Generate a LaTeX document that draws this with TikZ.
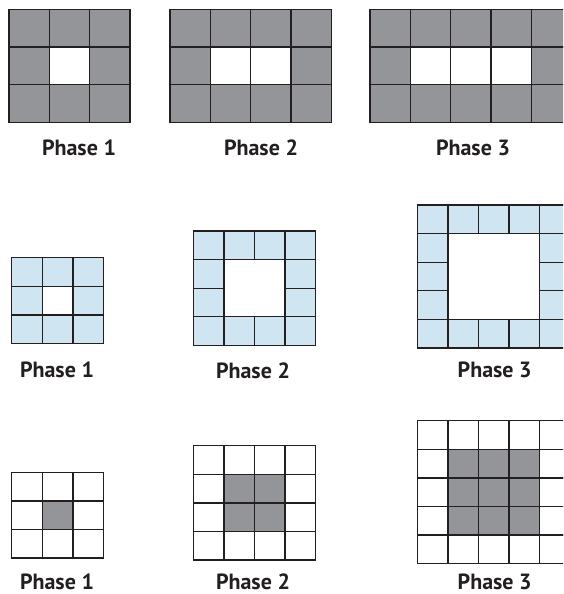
\documentclass[tikz,border=0pt]{standalone}
\usepackage{fontspec}
\setmainfont{PT Sans}
\usepackage{xcolor}
\usepackage{tikz}

\definecolor{tilegray}{RGB}{147,149,152}
\definecolor{tileblue}{RGB}{207,229,242}
\definecolor{inkc}{RGB}{35,31,32}

\begin{document}
\begin{tikzpicture}[
  x=1pt, y=-1pt,
  cell/.style={draw=inkc, line width=1.3pt},
  lbl/.style={anchor=base, inner sep=0pt, text=inkc, font=\fontsize{22}{26}\selectfont\bfseries},
]
  \useasboundingbox (0,0) rectangle (563,594);
  \clip (0,0) rectangle (563,594);

  % top row: gray frame, white middle row
  \begin{scope}[shift={(9,9.5)}]
    \foreach \i in {0,...,2} \foreach \j in {0,...,2}
      \draw[cell, fill=tilegray] (\i*40.3,\j*37.6) rectangle ++(40.3,37.6);
    \draw[cell, fill=white] (40.3,37.6) rectangle ++(40.3,37.6);
  \end{scope}
  \begin{scope}[shift={(170,9.5)}]
    \foreach \i in {0,...,3} \foreach \j in {0,...,2}
      \draw[cell, fill=tilegray] (\i*40.3,\j*37.6) rectangle ++(40.3,37.6);
    \foreach \i in {1,2}
      \draw[cell, fill=white] (\i*40.3,37.6) rectangle ++(40.3,37.6);
  \end{scope}
  \begin{scope}[shift={(370,9.5)}]
    \foreach \i in {0,...,4} \foreach \j in {0,...,2}
      \draw[cell, fill=tilegray] (\i*40.3,\j*37.6) rectangle ++(40.3,37.6);
    \foreach \i in {1,2,3}
      \draw[cell, fill=white] (\i*40.3,37.6) rectangle ++(40.3,37.6);
  \end{scope}
  \node[lbl] (top1) at (79,155) {Phase 1};
  \node[lbl] (top2) at (261,155) {Phase 2};
  \node[lbl] (top3) at (473,155) {Phase 3};

  % middle row: blue border, open hole
  \begin{scope}[shift={(11.7,257.7)}]
    \foreach \i in {0,...,2} \foreach \j in {0,...,2}
      \draw[cell, fill=tileblue] (\i*30.6,\j*28.6) rectangle ++(30.6,28.6);
    \draw[cell, fill=white] (30.6,28.6) rectangle ++(30.6,28.6);
  \end{scope}
  \begin{scope}[shift={(193.3,231)}]
    \foreach \i in {0,...,3} \foreach \j in {0,...,3}
      \draw[cell, fill=tileblue] (\i*30.6,\j*28.6) rectangle ++(30.6,28.6);
    \draw[cell, fill=white] (30.6,28.6) rectangle ++(61.2,57.2);
  \end{scope}
  \begin{scope}[shift={(417.3,205)}]
    \foreach \i in {0,...,4} \foreach \j in {0,...,4}
      \draw[cell, fill=tileblue] (\i*30.6,\j*28.6) rectangle ++(30.6,28.6);
    \draw[cell, fill=white] (30.6,28.6) rectangle ++(91.8,85.8);
  \end{scope}
  \node[lbl] (mid1) at (57,377) {Phase 1};
  \node[lbl] (mid2) at (253,378.5) {Phase 2};
  \node[lbl] (mid3) at (494.7,377) {Phase 3};

  % bottom row: white border, gray core
  \begin{scope}[shift={(11.7,472.3)}]
    \foreach \i in {0,...,2} \foreach \j in {0,...,2}
      \draw[cell, fill=white] (\i*30.6,\j*28.6) rectangle ++(30.6,28.6);
    \draw[cell, fill=tilegray] (30.6,28.6) rectangle ++(30.6,28.6);
  \end{scope}
  \begin{scope}[shift={(193.3,445.7)}]
    \foreach \i in {0,...,3} \foreach \j in {0,...,3}
      \draw[cell, fill=white] (\i*30.6,\j*28.6) rectangle ++(30.6,28.6);
    \foreach \i in {1,2} \foreach \j in {1,2}
      \draw[cell, fill=tilegray] (\i*30.6,\j*28.6) rectangle ++(30.6,28.6);
  \end{scope}
  \begin{scope}[shift={(417.3,420.7)}]
    \foreach \i in {0,...,4} \foreach \j in {0,...,4}
      \draw[cell, fill=white] (\i*30.6,\j*28.6) rectangle ++(30.6,28.6);
    \foreach \i in {1,2,3} \foreach \j in {1,2,3}
      \draw[cell, fill=tilegray] (\i*30.6,\j*28.6) rectangle ++(30.6,28.6);
  \end{scope}
  \node[lbl] (bot1) at (57,589) {Phase 1};
  \node[lbl] (bot2) at (253,589) {Phase 2};
  \node[lbl] (bot3) at (494.7,589) {Phase 3};
\end{tikzpicture}
\end{document}
